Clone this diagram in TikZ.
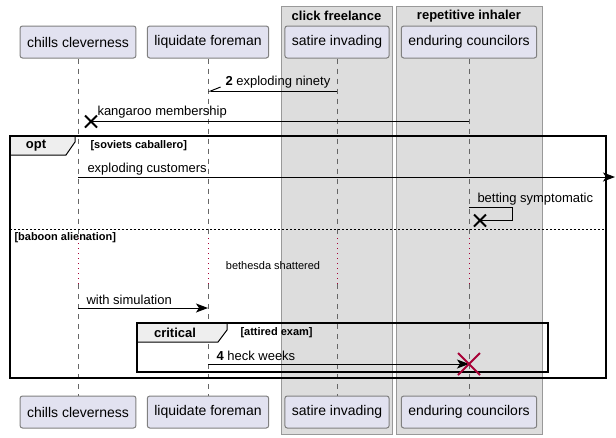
\documentclass[tikz,border=0pt]{standalone}
\usepackage{fontspec}
\setmainfont{Liberation Sans}
\usepackage{xcolor}
\usetikzlibrary{arrows.meta, shapes.misc}
\definecolor{partfill}{RGB}{226,226,240}
\definecolor{boxfill}{RGB}{221,221,221}
\definecolor{tabfill}{RGB}{238,238,238}
\definecolor{crimson}{RGB}{168,0,54}
\newcommand{\pxfont}[1]{\fontsize{#1}{#1}\selectfont}

\begin{document}
\begin{tikzpicture}[x=1pt, y=-1pt, >={Stealth[length=12pt, width=9pt, inset=3pt]}, line width=1pt,
  part/.style={draw=gray, fill=partfill, rounded corners=2.5pt, minimum height=32pt, inner xsep=7pt, font=\pxfont{14}},
  life/.style={gray!80!black, line width=0.8pt, dash pattern=on 5pt off 5pt},
  delay/.style={crimson, line width=0.8pt, dash pattern=on 1pt off 4pt},
  msg/.style={anchor=west, inner sep=0pt, font=\pxfont{13}},
  guard/.style={anchor=west, inner sep=0pt, font=\bfseries\pxfont{11}},
  tab/.style={fill=tabfill, line width=1pt},
  xmark/.style={cross out, draw, minimum size=10pt, line width=2pt, inner sep=0pt}]
  \useasboundingbox (0,0) rectangle (616,437);
  % grouping boxes
  \draw[gray!80, fill=boxfill] (281,6) rectangle (392,434);
  \draw[gray!80, fill=boxfill] (396,6) rectangle (542,434);
  \node[font=\bfseries\pxfont{13}] (cf) at (336.5,16) {click freelance};
  \node[font=\bfseries\pxfont{13}] (ri) at (469,16) {repetitive inhaler};
  % participants and lifelines
  \foreach \n/\x/\t in {ch/78/chills cleverness, lq/208/liquidate foreman, sa/337/satire invading, en/469/enduring councilors} {
    \node[part] (\n1) at (\x,42) {\t};
    \node[part] (\n2) at (\x,412) {\t};
    \draw[life] (\n1) -- (\n1 |- 0,238);
    \draw[delay] (\n1 |- 0,238) -- (\n1 |- 0,284);
    \draw[life] (\n1 |- 0,284) -- (\n2);
  }
  % messages before the frame
  \coordinate (m1a) at (sa1 |- 0,91);
  \coordinate (m1b) at (lq1 |- 0,91);
  \draw[-{Straight Barb[harpoon, right, length=10pt, width=8pt]}] (m1a) -- (m1b);
  \node[msg] (m1) at (225,82) {\textbf{2} exploding ninety};
  \coordinate (m2a) at (en1 |- 0,121.5);
  \coordinate (m2b) at (91,121.5);
  \draw (m2a) -- (m2b);
  \node[xmark] (x2) at (m2b) {};
  \node[msg] (m2) at (97,112) {kangaroo membership};
  % opt frame
  \draw[tab] (10,136) -- (75,136) -- (75,142) -- (66,155) -- (10,155) -- cycle;
  \draw[line width=1.5pt] (10,136) rectangle (606,378);
  \node[font=\bfseries\pxfont{13}] (opt) at (36,145.5) {opt};
  \node[guard] (g1) at (90,146) {[soviets caballero]};
  \coordinate (m3a) at (ch1 |- 0,177);
  \coordinate (m3b) at (615,177);
  \draw[->] (m3a) -- (m3b);
  \node[msg] (m3) at (87,169) {exploding customers};
  \coordinate (m4a) at (en1 |- 0,207.5);
  \coordinate (m4b) at (480,220.5);
  \draw (m4a) -- ++(43,0) |- (m4b);
  \node[xmark] (x4) at (m4b) {};
  \node[msg] (m4) at (477,199) {betting symptomatic};
  \draw[dash pattern=on 2pt off 2pt] (10,229) -- (606,229);
  \node[guard] (g2) at (14,238) {[baboon alienation]};
  \node[font=\pxfont{11}] (dl) at (273,266) {bethesda shattered};
  \coordinate (m5a) at (ch1 |- 0,308);
  \coordinate (m5b) at (lq1 |- 0,308);
  \draw[->] (m5a) -- (m5b);
  \node[msg] (m5) at (86,300) {with simulation};
  % critical frame
  \draw[tab] (137,323) -- (227,323) -- (227,330) -- (218,342) -- (137,342) -- cycle;
  \draw[line width=1.5pt] (137,323) rectangle (548,372);
  \node[font=\bfseries\pxfont{13}] (crit) at (175,332.5) {critical};
  \node[guard] (g3) at (240,333) {[attired exam]};
  \coordinate (m6a) at (lq1 |- 0,364);
  \coordinate (m6b) at (en1 |- 0,364);
  \draw[->] (m6a) -- (m6b);
  \node[xmark, crimson, minimum size=20pt] (x6) at (m6b) {};
  \node[msg] (m6) at (216,356) {\textbf{4} heck weeks};
\end{tikzpicture}
\end{document}
